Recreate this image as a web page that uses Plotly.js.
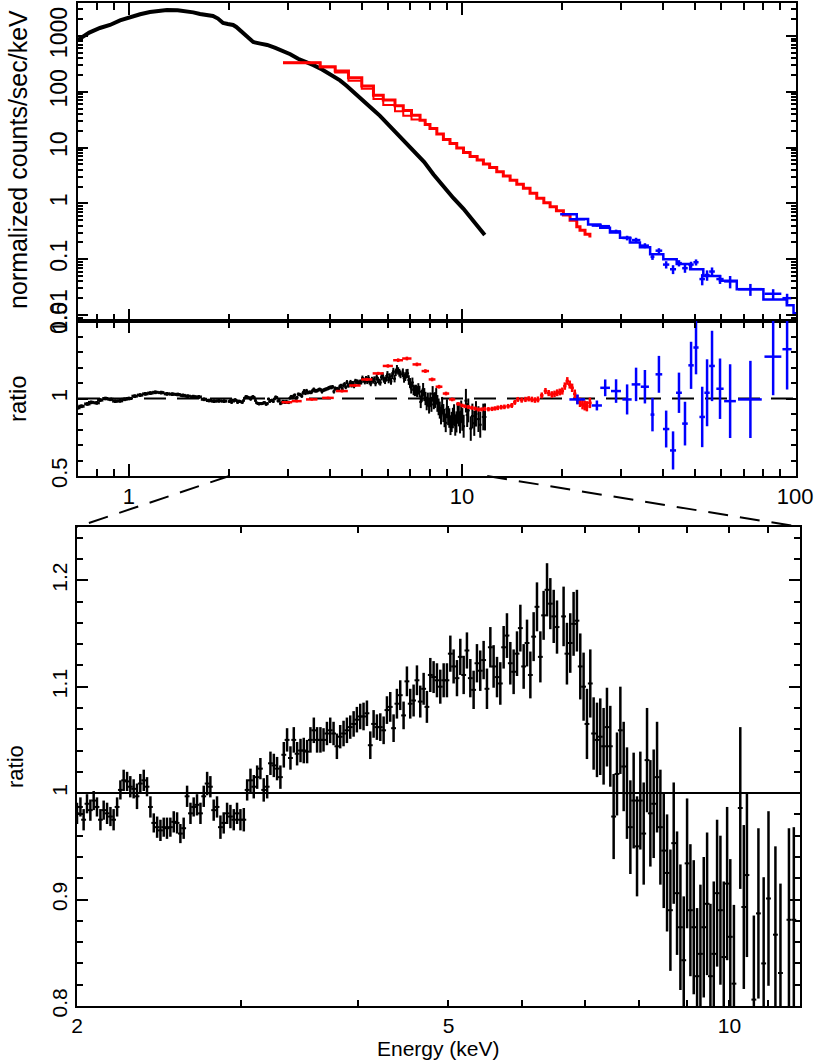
<!DOCTYPE html>
<html>
<head>
<meta charset="utf-8">
<script src="https://cdn.plot.ly/plotly-3.0.1.min.js"></script>
<style>
  html, body { margin: 0; padding: 0; background: #fff; }
  #chart { width: 817px; height: 1061px; }
</style>
</head>
<body>
<div id="chart"></div>
<script>
// ---- spectrum (top panel) ----
const blackE = [0.703, 0.76, 0.818, 0.877, 0.94, 1.007, 1.08, 1.156, 1.23, 1.30, 1.40, 1.493, 1.56, 1.634, 1.71, 1.787, 1.85, 1.916, 1.98, 2.054,
  2.10, 2.153, 2.25, 2.36, 2.48, 2.60, 2.75, 2.90, 3.05, 3.22, 3.40, 3.58, 3.80, 4.05, 4.30, 4.50, 4.80, 5.10, 5.40, 5.67,
  6.0, 6.4, 6.81, 7.2, 7.7, 8.21, 8.8, 9.41, 10.1, 10.8, 11.3, 11.7];
const blackC = [850, 1150, 1390, 1575, 1900, 2190, 2450, 2690, 2850, 2920, 2880, 2800, 2650, 2480, 2400, 2280, 2050, 1710, 1640, 1575,
  1450, 1280, 1000, 780, 730, 690, 610, 540, 470, 390, 345, 300, 250, 200, 160, 128, 92, 65, 48, 37,
  26, 17.5, 12, 8.5, 5.5, 3.3, 2.0, 1.25, 0.8, 0.5, 0.36, 0.27];

const redTopE = [2.9, 3.75, 4.16, 4.56, 5.0, 5.42, 5.8, 6.29, 6.66, 7.05, 7.48, 7.75, 8.01, 8.4, 8.79, 9.2, 9.64, 10.1, 10.57, 11.1,
  11.59, 12.1, 12.71, 13.3, 13.94, 14.6, 15.28, 16.0, 16.76, 17.6, 18.38, 19.2, 20.15, 21.1, 22.1, 22.6, 23.4, 24.2];
const redTopC = [331, 282, 236, 178, 127, 87, 71, 56, 46, 38, 31, 26, 22, 17.5, 13.9, 11.8, 9.8, 8.2, 6.9, 6.0,
  5.1, 4.4, 3.7, 3.1, 2.6, 2.2, 1.87, 1.52, 1.23, 1.03, 0.87, 0.74, 0.62, 0.50, 0.38, 0.33, 0.28, 0.245];
const redModelE = [2.9, 3.75, 4.16, 4.56, 5.0, 5.42, 5.8, 6.29, 6.66, 7.05, 7.48];
const redModelC = [331, 275, 222, 158, 113, 74, 58, 45, 37, 32, 30];

const blueModelE = [19.7, 22.1, 23.9, 26.0, 27.8, 29.8, 31.9, 34.2, 36.7, 40.2, 44.1, 48.4, 53.0, 59.5, 66.8, 80.3, 94.4, 98.9, 100.6];
const blueModelC = [0.638, 0.525, 0.42, 0.367, 0.30, 0.243, 0.20, 0.163, 0.123, 0.10, 0.082, 0.066, 0.05, 0.041, 0.029, 0.019, 0.015, 0.0107, 0.0107];

// ---- blue (high energy) data ----
const blueE = [22.2, 25.4, 26.9, 29.0, 31.3, 33.3, 35.4, 37.3, 39.0, 41.0, 43.0, 44.8, 46.7, 48.7, 50.4, 52.6, 54.4, 56.3, 59.5, 63.8, 73.4, 85.9, 94.6];
const blueEErr = [1.2, 0.9, 0.9, 1.0, 1.0, 1.0, 1.0, 0.5, 0.9, 0.9, 0.9, 0.9, 0.9, 0.9, 0.9, 1.0, 1.0, 1.1, 1.5, 2.6, 6.0, 5.0, 3.0];
const blueC = [0.52, 0.40, 0.39, 0.315, 0.24, 0.22, 0.175, 0.11, 0.142, 0.080, 0.066, 0.085, 0.069, 0.080, 0.088, 0.044, 0.052, 0.060, 0.044, 0.040, 0.029, 0.024, 0.020];
const blueCErr = [0.017, 0.013, 0.02, 0.023, 0.023, 0.022, 0.018, 0.013, 0.015, 0.012, 0.012, 0.011, 0.012, 0.010, 0.011, 0.010, 0.011, 0.011, 0.008, 0.010, 0.007, 0.005, 0.004];
const blueR = [0.994, 0.955, 1.069, 1.048, 0.994, 1.091, 1.076, 0.896, 1.156, 0.803, 0.665, 1.037, 0.838, 1.214, 1.329, 0.881, 1.037, 1.21, 1.063, 0.983, 0.994, 1.27, 1.318];
const blueRErr = [0.032, 0.032, 0.054, 0.076, 0.097, 0.108, 0.108, 0.108, 0.119, 0.119, 0.123, 0.13, 0.141, 0.152, 0.173, 0.195, 0.216, 0.227, 0.195, 0.238, 0.249, 0.249, 0.26];

// ---- red ratio ----
const redE = [2.98, 3.19, 3.54, 3.96, 4.36, 4.77, 5.18, 5.60, 5.99, 6.43, 6.83, 7.32, 7.76, 8.13, 8.53, 8.95, 9.34, 9.75,
  10.0, 10.2, 10.45, 10.7, 10.95, 11.2, 11.45, 11.7, 12.0, 12.3, 12.55, 12.8, 13.1, 13.4, 13.75, 14.1, 14.4, 14.7, 15.1, 15.5,
  15.85, 16.2, 16.55, 16.9, 17.35, 17.8, 18.2, 18.6, 18.95, 19.3, 19.65, 20.0, 20.35, 20.7, 21.05, 21.4, 21.8, 22.2, 22.6, 23.0,
  23.35, 23.7, 24.2];
const redEErr = [0.11, 0.11, 0.14, 0.16, 0.18, 0.19, 0.2, 0.21, 0.21, 0.22, 0.22, 0.22, 0.2, 0.19, 0.2, 0.2, 0.2, 0.15,
  0.12, 0.12, 0.13, 0.13, 0.13, 0.13, 0.13, 0.14, 0.14, 0.15, 0.15, 0.15, 0.16, 0.16, 0.17, 0.17, 0.17, 0.18, 0.19, 0.19,
  0.19, 0.2, 0.2, 0.21, 0.22, 0.22, 0.22, 0.22, 0.22, 0.23, 0.23, 0.24, 0.24, 0.25, 0.25, 0.26, 0.26, 0.27, 0.27, 0.27,
  0.27, 0.28, 0.3];
const redR = [0.976, 0.983, 0.994, 1.004, 1.048, 1.084, 1.123, 1.162, 1.21, 1.247, 1.258, 1.22, 1.177, 1.123, 1.076, 1.032, 0.994, 0.965,
  0.955, 0.95, 0.945, 0.94, 0.935, 0.929, 0.93, 0.933, 0.931, 0.933, 0.936, 0.94, 0.944, 0.946, 0.95, 0.955, 0.975, 0.994, 0.99, 0.994,
  0.998, 0.994, 0.99, 0.994, 1.02, 1.048, 1.035, 1.026, 1.03, 1.037, 1.042, 1.048, 1.08, 1.113, 1.09, 1.069, 1.03, 0.994, 0.975, 0.961,
  0.955, 0.95, 0.972];
const redRErr = [0.008, 0.008, 0.008, 0.008, 0.009, 0.009, 0.01, 0.01, 0.011, 0.012, 0.012, 0.012, 0.012, 0.012, 0.012, 0.012, 0.012, 0.012,
  0.012, 0.012, 0.013, 0.013, 0.013, 0.013, 0.013, 0.014, 0.014, 0.014, 0.014, 0.015, 0.015, 0.015, 0.015, 0.016, 0.016, 0.016, 0.017, 0.017,
  0.017, 0.018, 0.018, 0.019, 0.019, 0.02, 0.02, 0.021, 0.021, 0.022, 0.022, 0.023, 0.024, 0.025, 0.026, 0.027, 0.028, 0.029, 0.03, 0.031,
  0.032, 0.033, 0.034];

// ---- black ratio below 2 keV (middle panel only) ----
const lowE = [0.70, 0.72, 0.75, 0.77, 0.80, 0.82, 0.85, 0.88, 0.91, 0.94, 0.97, 1.00, 1.04, 1.08, 1.12, 1.16, 1.20, 1.25, 1.30, 1.35,
  1.40, 1.45, 1.50, 1.56, 1.62, 1.68, 1.74, 1.80, 1.86, 1.93];
const lowR = [0.94, 0.95, 0.965, 0.975, 0.972, 0.99, 1.0, 0.995, 0.983, 0.985, 0.995, 1.0, 1.015, 1.022, 1.03, 1.035, 1.04, 1.038, 1.03, 1.028,
  1.026, 1.02, 1.015, 1.012, 1.01, 0.995, 0.987, 0.983, 0.985, 0.983];

// ---- black ratio 2-12 keV (middle and bottom panels) ----
const ratioE = [
  2.000, 2.017, 2.033, 2.050, 2.067, 2.084, 2.101, 2.119, 2.136, 2.154,
  2.172, 2.189, 2.208, 2.226, 2.244, 2.263, 2.281, 2.300, 2.319, 2.338,
  2.358, 2.377, 2.397, 2.417, 2.437, 2.457, 2.477, 2.497, 2.518, 2.539,
  2.560, 2.581, 2.602, 2.624, 2.646, 2.667, 2.689, 2.712, 2.734, 2.757,
  2.779, 2.802, 2.825, 2.849, 2.872, 2.896, 2.920, 2.944, 2.968, 2.993,
  3.018, 3.043, 3.068, 3.093, 3.119, 3.144, 3.170, 3.197, 3.223, 3.250,
  3.276, 3.303, 3.331, 3.358, 3.386, 3.414, 3.442, 3.471, 3.499, 3.528,
  3.557, 3.587, 3.616, 3.646,
  3.674, 3.705, 3.735, 3.766, 3.797, 3.828, 3.860, 3.892, 3.924, 3.957,
  3.989, 4.022, 4.055, 4.089, 4.123, 4.157, 4.191, 4.226, 4.261, 4.296,
  4.331, 4.367, 4.403, 4.439, 4.476, 4.513, 4.550, 4.588, 4.626, 4.664,
  4.703, 4.741, 4.781, 4.820, 4.860, 4.900, 4.941, 4.981, 5.023, 5.064,
  5.106, 5.148, 5.191, 5.233, 5.277, 5.320, 5.364, 5.408, 5.453, 5.498,
  5.544, 5.589, 5.636, 5.682, 5.729, 5.776, 5.824, 5.872, 5.921, 5.970,
  6.019, 6.069, 6.119, 6.169, 6.220, 6.272, 6.323, 6.376, 6.428, 6.482,
  6.535,
  6.642, 6.697, 6.752, 6.808, 6.864, 6.921, 6.978, 7.036, 7.094, 7.153,
  7.212, 7.271, 7.331, 7.392, 7.453, 7.515, 7.577, 7.640, 7.703, 7.766,
  7.831, 7.895, 7.961, 8.026, 8.093, 8.160, 8.227, 8.295, 8.364, 8.433,
  8.503, 8.573, 8.644, 8.715, 8.787, 8.860, 8.933, 9.007, 9.081, 9.156,
  9.232, 9.308, 9.385, 9.463, 9.541, 9.620, 9.699, 9.779, 9.860, 9.942,
  10.02, 10.11, 10.27, 10.36, 10.44, 10.62, 10.74, 10.88, 11.01, 11.20,
  11.34, 11.58, 11.72];
const ratioR = [
  0.981, 0.987, 0.975, 0.990, 0.984, 0.993, 0.987, 0.975, 0.984, 0.981,
  0.978, 0.975, 0.987, 1.003, 1.012, 1.011, 1.006, 1.004, 0.997, 1.009,
  1.012, 1.006, 0.987, 0.972, 0.968, 0.965, 0.968, 0.967, 0.968, 0.973,
  0.972, 0.962, 0.967, 0.997, 0.981, 0.987, 0.989, 0.981, 0.997, 1.009,
  1.006, 0.984, 0.987, 0.968, 0.972, 0.981, 0.978, 0.975, 0.981, 0.975,
  0.975, 1.003, 1.012, 1.006, 1.015, 1.023, 1.003, 1.006, 1.028, 1.026,
  1.023, 1.015, 1.036, 1.050, 1.033, 1.050, 1.037, 1.040, 1.040, 1.039,
  1.050, 1.059, 1.050, 1.050,
  1.050, 1.056, 1.059, 1.056, 1.044, 1.053, 1.056, 1.059, 1.062, 1.065,
  1.069, 1.072, 1.072, 1.075, 1.045, 1.065, 1.062, 1.062, 1.059, 1.078,
  1.081, 1.061, 1.084, 1.092, 1.073, 1.105, 1.084, 1.087, 1.106, 1.086,
  1.098, 1.081, 1.111, 1.109, 1.106, 1.100, 1.106, 1.106, 1.131, 1.119,
  1.108, 1.128, 1.111, 1.134, 1.108, 1.097, 1.122, 1.115, 1.125, 1.098,
  1.137, 1.119, 1.109, 1.103, 1.137, 1.148, 1.122, 1.114, 1.131, 1.155,
  1.119, 1.141, 1.111, 1.147, 1.175, 1.128, 1.167, 1.191, 1.178, 1.166,
  1.156,
  1.166, 1.131, 1.141, 1.159, 1.162, 1.119, 1.100, 1.065, 1.103, 1.056,
  1.050, 1.053, 1.044, 1.062, 1.044, 0.978, 1.018, 1.059, 1.025, 1.000,
  0.968, 0.993, 0.950, 0.993, 0.962, 1.031, 0.981, 0.990, 1.015, 0.968,
  0.946, 0.925, 0.890, 0.953, 0.906, 0.874, 0.843, 0.934, 0.890, 0.874,
  0.828, 0.849, 0.874, 0.896, 0.828, 0.849, 0.906, 0.890, 0.846, 0.915,
  0.865, 0.821, 0.986, 0.893, 0.923, 0.806, 0.887, 0.840, 0.901, 0.867,
  0.831, 0.881, 0.881];
const ratioErr = [
  0.010, 0.009, 0.010, 0.009, 0.010, 0.009, 0.009, 0.010, 0.009, 0.010,
  0.009, 0.010, 0.009, 0.009, 0.010, 0.009, 0.010, 0.009, 0.012, 0.009,
  0.010, 0.009, 0.010, 0.009, 0.010, 0.010, 0.009, 0.010, 0.009, 0.010,
  0.010, 0.009, 0.010, 0.010, 0.010, 0.009, 0.010, 0.010, 0.010, 0.011,
  0.010, 0.010, 0.010, 0.011, 0.010, 0.010, 0.011, 0.010, 0.010, 0.010,
  0.011, 0.010, 0.011, 0.011, 0.011, 0.010, 0.011, 0.011, 0.011, 0.011,
  0.011, 0.011, 0.012, 0.011, 0.011, 0.012, 0.011, 0.011, 0.012, 0.011,
  0.012, 0.012, 0.012, 0.012,
  0.011, 0.011, 0.012, 0.011, 0.012, 0.011, 0.012, 0.012, 0.011, 0.012,
  0.012, 0.012, 0.013, 0.012, 0.013, 0.013, 0.012, 0.013, 0.013, 0.013,
  0.014, 0.013, 0.014, 0.014, 0.013, 0.014, 0.014, 0.015, 0.014, 0.015,
  0.015, 0.015, 0.016, 0.015, 0.016, 0.016, 0.016, 0.016, 0.017, 0.016,
  0.017, 0.017, 0.018, 0.017, 0.018, 0.018, 0.018, 0.019, 0.018, 0.019,
  0.019, 0.020, 0.019, 0.020, 0.020, 0.021, 0.020, 0.021, 0.021, 0.022,
  0.021, 0.022, 0.022, 0.023, 0.023, 0.024, 0.023, 0.025, 0.024, 0.025,
  0.025,
  0.028, 0.029, 0.028, 0.030, 0.029, 0.031, 0.032, 0.033, 0.032, 0.034,
  0.035, 0.036, 0.036, 0.037, 0.038, 0.040, 0.039, 0.041, 0.042, 0.043,
  0.044, 0.045, 0.047, 0.046, 0.048, 0.049, 0.050, 0.051, 0.052, 0.054,
  0.054, 0.055, 0.057, 0.057, 0.058, 0.059, 0.060, 0.061, 0.062, 0.063,
  0.064, 0.065, 0.066, 0.067, 0.068, 0.068, 0.069, 0.070, 0.071, 0.072,
  0.073, 0.074, 0.076, 0.077, 0.077, 0.079, 0.080, 0.081, 0.082, 0.083,
  0.084, 0.086, 0.087];

// ---- panel geometry ----
const W = 817, H = 1061;
const X_TOP = [78 / W, 796 / W];
const Y_TOP = [1 - 321 / H, 1 - 3 / H];
const Y_MID = [1 - 476 / H, 1 - 321 / H];
const X_BOT = [77 / W, 800 / W];
const Y_BOT = [1 - 1006 / H, 1 - 527 / H];
const XR_TOP = [Math.log10(0.703), Math.log10(100.6)];
const XR_BOT = [Math.log10(2), Math.log10(11.9)];

const FONT = 'Liberation Sans, Arial, Helvetica, sans-serif';
const RED = '#ff0000', BLUE = '#0000ff';

function minorLog(lo, hi) {
  const out = [];
  for (let k = -3; k <= 4; k++) {
    for (let m = 2; m <= 9; m++) {
      const v = m * Math.pow(10, k);
      if (v > lo && v < hi) out.push(v);
    }
  }
  return out;
}

function axis(extra) {
  return Object.assign({
    showline: true, linewidth: 2, linecolor: 'black', mirror: 'ticks',
    ticks: 'inside', tickwidth: 2, tickcolor: 'black',
    showgrid: false, zeroline: false, automargin: false,
    tickfont: { family: FONT, size: 22, color: 'black' },
    tickmode: 'array'
  }, extra);
}
function minor(vals, len) {
  return { tickmode: 'array', tickvals: vals, ticks: 'inside', ticklen: len, tickwidth: 2, tickcolor: 'black' };
}

const traces = [
  // top panel
  { x: blackE, y: blackC, xaxis: 'x', yaxis: 'y', mode: 'lines', line: { color: 'black', width: 4 } },
  { x: redModelE, y: redModelC, xaxis: 'x', yaxis: 'y', mode: 'lines', line: { color: RED, width: 2, shape: 'hv' } },
  { x: redTopE, y: redTopC, xaxis: 'x', yaxis: 'y', mode: 'lines', line: { color: RED, width: 3, shape: 'hv' } },
  { x: blueModelE, y: blueModelC, xaxis: 'x', yaxis: 'y', mode: 'lines', line: { color: BLUE, width: 2.5, shape: 'hv' } },
  { x: blueE, y: blueC, xaxis: 'x', yaxis: 'y', mode: 'markers', marker: { color: BLUE, size: 2 },
    error_x: { type: 'data', array: blueEErr, width: 0, thickness: 2.5, color: BLUE },
    error_y: { type: 'data', array: blueCErr, width: 0, thickness: 2.5, color: BLUE } },
  // middle panel
  { x: lowE, y: lowR, xaxis: 'x2', yaxis: 'y2', mode: 'markers', marker: { color: 'black', size: 3 },
    error_y: { type: 'constant', value: 0.012, width: 0, thickness: 2.5, color: 'black' },
    error_x: { type: 'percent', value: 2.2, width: 0, thickness: 3, color: 'black' } },
  { x: ratioE, y: ratioR, xaxis: 'x2', yaxis: 'y2', mode: 'markers', marker: { color: 'black', size: 2 },
    error_y: { type: 'data', array: ratioErr, width: 0, thickness: 2, color: 'black' },
    error_x: { type: 'percent', value: 1.0, width: 0, thickness: 2, color: 'black' } },
  { x: redE, y: redR, xaxis: 'x2', yaxis: 'y2', mode: 'markers', marker: { color: RED, size: 2 },
    error_x: { type: 'data', array: redEErr, width: 0, thickness: 2.5, color: RED },
    error_y: { type: 'data', array: redRErr, width: 0, thickness: 2.5, color: RED } },
  { x: blueE, y: blueR, xaxis: 'x2', yaxis: 'y2', mode: 'markers', marker: { color: BLUE, size: 2 },
    error_x: { type: 'data', array: blueEErr, width: 0, thickness: 2.5, color: BLUE },
    error_y: { type: 'data', array: blueRErr, width: 0, thickness: 2.5, color: BLUE } },
  // bottom panel
  { x: ratioE, y: ratioR, xaxis: 'x3', yaxis: 'y3', mode: 'markers', marker: { color: 'black', size: 2 },
    error_y: { type: 'data', array: ratioErr, width: 0, thickness: 2.5, color: 'black' },
    error_x: { type: 'percent', value: 0.6, width: 0, thickness: 2, color: 'black' } }
];
traces.forEach(t => { t.showlegend = false; t.hoverinfo = 'skip'; });

function toPaperX(dom, range, v) {
  return dom[0] + (Math.log10(v) - range[0]) / (range[1] - range[0]) * (dom[1] - dom[0]);
}

const layout = {
  width: W, height: H,
  margin: { l: 0, r: 0, t: 0, b: 0 },
  paper_bgcolor: 'white', plot_bgcolor: 'white',
  showlegend: false, hovermode: false,
  font: { family: FONT, color: 'black' },
  xaxis: axis({ type: 'log', domain: X_TOP, anchor: 'y', range: XR_TOP, tickvals: [1, 10, 100],
    showticklabels: false, ticklen: 12, minor: minor(minorLog(0.7, 100), 7) }),
  yaxis: axis({ type: 'log', domain: Y_TOP, anchor: 'x', range: [-2.108, 3.591],
    tickvals: [0.01, 0.1, 1, 10, 100, 1000], ticktext: ['0.01', '0.1', '1', '10', '100', '1000'],
    tickangle: -90, ticklen: 10, tickfont: { family: FONT, size: 23, color: 'black' },
    minor: minor(minorLog(0.0078, 3900), 5) }),
  xaxis2: axis({ type: 'log', domain: X_TOP, anchor: 'y2', range: XR_TOP, tickvals: [1, 10, 100],
    ticktext: ['1', '10', '100'], ticklen: 12, minor: minor(minorLog(0.7, 100), 7) }),
  yaxis2: axis({ domain: Y_MID, anchor: 'x2', range: [0.5, 1.5], tickvals: [0.5, 1, 1.5],
    ticktext: ['0.5', '1', '1.5'], tickangle: -90, ticklen: 10,
    minor: minor([0.6, 0.7, 0.8, 0.9, 1.1, 1.2, 1.3, 1.4], 5) }),
  xaxis3: axis({ type: 'log', domain: X_BOT, anchor: 'y3', range: XR_BOT, tickvals: [2, 5, 10],
    ticktext: ['2', '5', '10'], ticklen: 6, tickfont: { family: FONT, size: 21, color: 'black' },
    minor: minor([3, 4, 6, 7, 8, 9, 11], 6) }),
  yaxis3: axis({ domain: Y_BOT, anchor: 'x3', range: [0.8, 1.25], tickvals: [0.8, 0.9, 1, 1.1, 1.2],
    ticktext: ['0.8', '0.9', '1', '1.1', '1.2'], tickangle: -90, ticklen: 11,
    tickfont: { family: FONT, size: 21, color: 'black' },
    minor: minor([0.82, 0.84, 0.86, 0.88, 0.92, 0.94, 0.96, 0.98, 1.02, 1.04, 1.06, 1.08, 1.12, 1.14, 1.16, 1.18, 1.22, 1.24], 6) }),
  shapes: [
    { type: 'line', xref: 'x2 domain', yref: 'y2', x0: 0, x1: 1, y0: 1, y1: 1, layer: 'below',
      line: { color: 'black', width: 2, dash: '22px,11px' } },
    { type: 'line', xref: 'x3 domain', yref: 'y3', x0: 0, x1: 1, y0: 1, y1: 1, layer: 'below',
      line: { color: 'black', width: 2 } },
    { type: 'line', xref: 'paper', yref: 'paper',
      x0: toPaperX(X_TOP, XR_TOP, 2), y0: Y_MID[0], x1: X_BOT[0], y1: Y_BOT[1],
      line: { color: 'black', width: 2, dash: '20px,12px' } },
    { type: 'line', xref: 'paper', yref: 'paper',
      x0: toPaperX(X_TOP, XR_TOP, 11.9), y0: Y_MID[0], x1: X_BOT[1], y1: Y_BOT[1],
      line: { color: 'black', width: 2, dash: '20px,12px' } }
  ],
  annotations: [
    { text: 'normalized counts/sec/keV', xref: 'paper', yref: 'paper', x: 18 / W, y: 1 - 160 / H,
      textangle: -90, showarrow: false, xanchor: 'center', yanchor: 'middle', font: { family: FONT, size: 25 } },
    { text: 'ratio', xref: 'paper', yref: 'paper', x: 18 / W, y: 1 - 399 / H,
      textangle: -90, showarrow: false, xanchor: 'center', yanchor: 'middle', font: { family: FONT, size: 24 } },
    { text: 'ratio', xref: 'paper', yref: 'paper', x: 15 / W, y: 1 - 767 / H,
      textangle: -90, showarrow: false, xanchor: 'center', yanchor: 'middle', font: { family: FONT, size: 22 } },
    { text: 'Energy (keV)', xref: 'paper', yref: 'paper', x: 438 / W, y: 1 - 1048 / H,
      showarrow: false, xanchor: 'center', yanchor: 'middle', borderpad: 0, font: { family: FONT, size: 21 } }
  ]
};

Plotly.newPlot('chart', traces, layout, { staticPlot: true, displayModeBar: false });
</script>
</body>
</html>
